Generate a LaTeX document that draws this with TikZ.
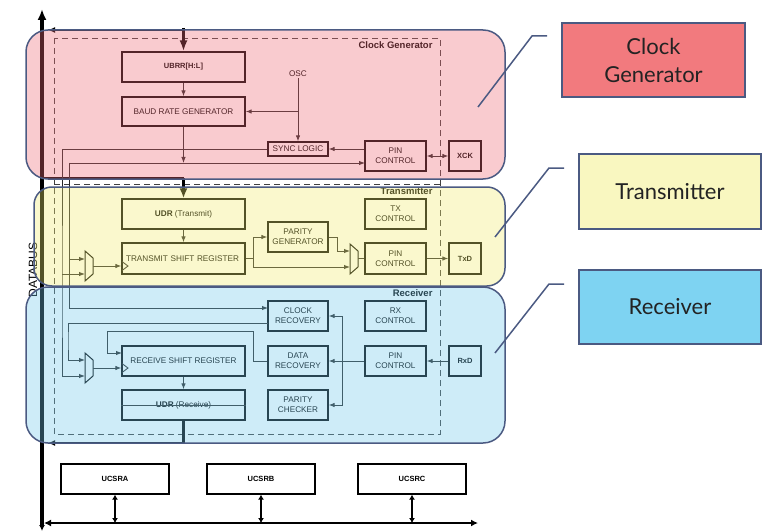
\documentclass[tikz,border=0pt]{standalone}
\usepackage{fontspec}
\setmainfont{Liberation Sans}
\newfontfamily\legendfont{Lato}
\usetikzlibrary{arrows.meta,calc}
\definecolor{ovpink}{RGB}{238,106,118}
\definecolor{ovyellow}{RGB}{240,235,112}
\definecolor{ovblue}{RGB}{115,200,235}
\definecolor{ovborder}{RGB}{75,90,130}
\definecolor{lgpink}{RGB}{242,122,126}
\definecolor{lgyellow}{RGB}{249,247,192}
\definecolor{lgblue}{RGB}{126,211,242}
\definecolor{lgtext}{RGB}{35,35,35}
\begin{document}
\begin{tikzpicture}[x=1pt,y=-1pt,
  blk/.style={draw=black, line width=1.3pt, inner sep=0pt, align=center,
    font=\fontsize{8.2}{10}\selectfont, text=black},
  wideblk/.style={blk, minimum width=123pt, minimum height=30pt},
  smallblk/.style={blk, minimum width=60pt, minimum height=30pt},
  midblk/.style={blk, minimum width=61pt, minimum height=30pt},
  pinblk/.style={blk, minimum width=32pt, minimum height=30pt, font=\bfseries\fontsize{7.5}{9}\selectfont},
  regblk/.style={blk, minimum width=108pt, minimum height=30pt, font=\bfseries\fontsize{7.5}{9}\selectfont},
  con/.style={line width=0.9pt, draw=black!85},
  arr/.style={con, -{Latex[length=6pt,width=4.5pt]}},
  darr/.style={con, {Latex[length=6pt,width=4.5pt]}-{Latex[length=6pt,width=4.5pt]}},
  busline/.style={line width=2.8pt, draw=black},
  muxline/.style={line width=1pt, draw=black},
  dashsep/.style={line width=0.9pt, draw=black!75, dash pattern=on 6pt off 4pt},
  regionlbl/.style={anchor=east, font=\bfseries\fontsize{9.5}{11}\selectfont, text=black},
  overlay/.style={draw=ovborder, line width=1.5pt, fill opacity=0.35},
  legendbox/.style={draw=ovborder, line width=1.5pt, text=lgtext, align=center,
    font=\legendfont\fontsize{22}{28}\selectfont, inner sep=0pt},
  callout/.style={draw=ovborder, line width=1.5pt}
]
\useasboundingbox (0,0) rectangle (763,532);

% ---------- dashed inner frame ----------
\draw[dashsep] (54,38) rectangle (440,434);
\draw[dashsep] (54,184) -- (440,184);
\draw[dashsep] (54,287) -- (440,287);

% ---------- databus ----------
\coordinate (dbTop) at (42,9);
\coordinate (dbBot) at (42,531);
\draw[line width=3.2pt, {Latex[length=6pt,width=6pt]}-{Latex[length=11pt,width=9pt]}] (dbBot) -- (dbTop);
\node[rotate=90, font=\fontsize{12}{14}\selectfont, text=black] (databus) at (33,270) {DATABUS};
\coordinate (hbL) at (44,523);
\coordinate (hbR) at (478,523);
\draw[line width=2.6pt, {Latex[length=7pt,width=7pt]}-{Latex[length=7pt,width=7pt]}] (hbL) -- (hbR);

% ---------- clock generator ----------
\node[regionlbl] (lblclk) at (436,45) {Clock Generator};
\node[wideblk, font=\bfseries\fontsize{7.5}{9}\selectfont] (ubrr) at (183.5,67) {UBRR[H:L]};
\node[wideblk, minimum height=29pt] (brg) at (183.5,111.5) {BAUD RATE GENERATOR};
\node[font=\fontsize{8.2}{10}\selectfont, inner sep=1pt] (osc) at (298,74) {OSC};
\node[blk, minimum width=60pt, minimum height=14pt] (sync) at (298,149) {SYNC LOGIC};
\node[midblk] (pinc) at (395.5,156) {PIN\\CONTROL};
\node[pinblk] (xck) at (465,156) {XCK};

\coordinate (busA) at (48,30);
\coordinate (busAv) at (183.5,28);
\draw[busline, -{Latex[length=7pt,width=6pt]}] (busAv |- busA) -- (busA);
\draw[busline, -{Latex[length=11pt,width=8pt]}] (busAv) -- (ubrr.north);
\draw[arr] (ubrr) -- (brg);
\coordinate (oscj) at (298,111.5);
\draw[arr] (osc.south) -- (sync.north);
\draw[arr] (oscj) -- (brg.east);
\draw[arr] (pinc.west |- sync.east) -- (sync.east);
\draw[darr] (pinc.east) -- (xck.west);
\coordinate (brgj) at (183.5,163);
\draw[arr] (brg.south) -- (brgj);

% ---------- transmitter ----------
\node[regionlbl] (lbltx) at (436,191) {Transmitter};
\node[wideblk] (udrt) at (183.5,214) {\textbf{UDR} (Transmit)};
\node[wideblk, minimum height=31pt, text width=121pt, align=left] (tsr) at (183.5,258.5) {\hspace{3pt}TRANSMIT SHIFT REGISTER};
\node[smallblk] (pargen) at (298,237) {PARITY\\GENERATOR};
\node[midblk] (txctl) at (395.5,214) {TX\\CONTROL};
\node[midblk, minimum height=31pt] (pint) at (395.5,258.5) {PIN\\CONTROL};
\node[pinblk, minimum height=31pt] (txd) at (465,258.5) {TxD};

\coordinate (busB) at (44,178);
\coordinate (busBv) at (183.5,178);
\draw[busline] (busB) -- (busBv);
\draw[busline, -{Latex[length=10pt,width=8pt]}] (busBv) -- (udrt.north);
\draw[arr] (udrt) -- (tsr);

% tx mux 1
\draw[muxline] (85,251) -- (93,258) -- (93,274) -- (85,281) -- cycle;
\coordinate (mxtA) at (85,259);
\coordinate (mxtB) at (85,274);
\coordinate (mxtO) at (93,266);
\draw[arr] (mxtO) -- (mxtO -| tsr.west);
\draw[con] (122,261.5) -- (128,266) -- (122,270.5);
% tx mux 2
\draw[muxline] (350,244) -- (358,251) -- (358,267) -- (350,274) -- cycle;
\coordinate (mx2A) at (350,251);
\coordinate (mx2B) at (350,267);
\coordinate (mx2O) at (358,258.5);
\coordinate (vG) at (253,258.5);
\coordinate (vH) at (337,237);
\draw[arr] (tsr.east) -- (vG) |- (pargen.west);
\draw[arr] (vG) |- (mx2B);
\draw[arr] (pargen.east) -- (vH) |- (mx2A);
\draw[con] (mx2O) -- (pint.west);
\draw[arr] (pint.east) -- (txd.west);

% ---------- receiver ----------
\node[regionlbl] (lblrx) at (436,293) {Receiver};
\node[wideblk] (rsr) at (183.5,361) {RECEIVE SHIFT REGISTER};
\node[wideblk] (udrr) at (183.5,405) {\textbf{UDR} (Receive)};
\node[smallblk] (clkrec) at (298,316) {CLOCK\\RECOVERY};
\node[smallblk] (datarec) at (298,361) {DATA\\RECOVERY};
\node[smallblk] (parchk) at (298,405) {PARITY\\CHECKER};
\node[midblk] (rxctl) at (395.5,316) {RX\\CONTROL};
\node[midblk] (pinr) at (395.5,361) {PIN\\CONTROL};
\node[pinblk] (rxd) at (465,361) {RxD};

\draw[con] (udrr.west) -- (udrr.east);
\draw[arr] (rsr) -- (udrr);
\coordinate (busC) at (48,443);
\coordinate (busCv) at (183.5,443);
\draw[busline, -{Latex[length=7pt,width=6pt]}] (udrr.south) -- (busCv) -- (busC);

% rx mux
\draw[muxline] (85,353) -- (93,360) -- (93,376) -- (85,383) -- cycle;
\coordinate (mxrA) at (85,360);
\coordinate (mxrB) at (85,376);
\coordinate (mxrO) at (93,368);
\draw[arr] (mxrO) -- (mxrO -| rsr.west);
\draw[con] (122,363.5) -- (128,368) -- (122,372.5);

\draw[arr] (rxd.west) -- (pinr.east);
\draw[arr] (pinr.west) -- (datarec.east);
\coordinate (vF) at (342,361);
\draw[arr] (vF) |- (clkrec.east);
\draw[arr] (vF) |- (parchk.east);

\coordinate (vD) at (253,331);
\coordinate (vE) at (107,331);
\coordinate (rsrIn) at (122,353);
\draw[arr] (datarec.west) -| (vD) -- (vE) |- (rsrIn);

% ---------- clock distribution lines ----------
\coordinate (vA) at (62,300);
\draw[arr] (sync.west) -| (vA) |- (mxrB);
\draw[arr] (mxtB -| vA) -- (mxtB);

\coordinate (vB) at (69,163);
\coordinate (pincIn) at (365,163);
\coordinate (clkrecIn) at (268,308);
\draw[arr] (vB) -- (pincIn);
\draw[arr] (vB) |- (clkrecIn);
\draw[arr] (mxtA -| vB) -- (mxtA);

\coordinate (clkrecOut) at (268,323);
\coordinate (vC) at (68,340);
\draw[arr] (clkrecOut) -| (vC) |- (mxrA);

% ---------- status registers ----------
\node[regblk] (ucsra) at (115,479) {UCSRA};
\node[regblk] (ucsrb) at (261,479) {UCSRB};
\node[regblk] (ucsrc) at (412,479) {UCSRC};
\foreach \r in {ucsra,ucsrb,ucsrc}{
  \draw[line width=2pt, {Latex[length=5pt,width=6pt]}-{Latex[length=5pt,width=6pt]}]
    (\r.south) -- (\r.south |- hbL);
}

% ---------- overlays ----------
\draw[overlay, fill=ovpink, rounded corners=22pt] (26,30) rectangle (505,179);
\draw[overlay, fill=ovyellow, rounded corners=18pt] (34,187) rectangle (505,286);
\draw[overlay, fill=ovblue, rounded corners=22pt] (26,287) rectangle (505,443);

% ---------- legend ----------
\node[legendbox, fill=lgpink, minimum width=183pt, minimum height=74pt] (lgclk) at (653.5,60) {Clock\\Generator};
\node[legendbox, fill=lgyellow, minimum width=182pt, minimum height=75pt] (lgtx) at (670,191.5) {Transmitter};
\node[legendbox, fill=lgblue, minimum width=182pt, minimum height=74pt] (lgrx) at (670,307) {Receiver};

\coordinate (cg1) at (478,107);
\coordinate (cg2) at (532,36);
\coordinate (cg3) at (547,36);
\coordinate (ct1) at (495,237);
\coordinate (ct2) at (549,168);
\coordinate (ct3) at (564,168);
\coordinate (cr1) at (495,353);
\coordinate (cr2) at (549,284);
\coordinate (cr3) at (564,284);
\draw[callout] (cg1) -- (cg2) -- (cg3);
\draw[callout] (ct1) -- (ct2) -- (ct3);
\draw[callout] (cr1) -- (cr2) -- (cr3);
\end{tikzpicture}
\end{document}
